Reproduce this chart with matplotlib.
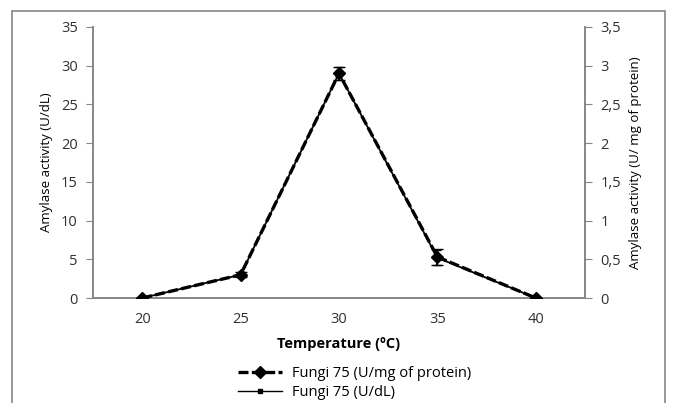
import matplotlib
matplotlib.use("Agg")
import matplotlib.pyplot as plt
from matplotlib.patches import Rectangle
from matplotlib.lines import Line2D

plt.rcParams['font.family'] = ['Open Sans', 'DejaVu Sans']

temperature = [20, 25, 30, 35, 40]
activity_udl = [0, 3.0, 29.0, 5.2, 0]
activity_udl_err = [0, 0.3, 0.8, 1.0, 0]
activity_prot = [0, 0.30, 2.90, 0.53, 0]
activity_prot_err = [0, 0.03, 0.08, 0.10, 0]

left_ticks = [0, 5, 10, 15, 20, 25, 30, 35]
right_ticks = [0, 0.5, 1, 1.5, 2, 2.5, 3, 3.5]
right_labels = ['0', '0,5', '1', '1,5', '2', '2,5', '3', '3,5']

W, H = 676, 403
fig = plt.figure(figsize=(W / 100, H / 100), dpi=100)
ax = fig.add_axes([93 / W, 1 - 298 / H, (585 - 93) / W, (298 - 27) / H])
ax2 = ax.twinx()

gray = '#868686'
txt = '#303030'

# U/dL series (left axis)
ax.errorbar(temperature, activity_udl, yerr=activity_udl_err, color='black', lw=1.3,
            marker='s', ms=3.5, capsize=3, elinewidth=1.2, zorder=3)
# protein series (right axis)
ax2.errorbar(temperature, activity_prot, yerr=activity_prot_err, color='black', lw=2.4,
             ls=(0, (3, 1.0)), marker='D', ms=6.5, capsize=4, elinewidth=1.2, zorder=4)

ax.set_xlim(17.5, 42.5)
ax.set_ylim(0, 35)
ax2.set_ylim(0, 3.5)
ax.set_xticks(temperature)
ax.set_yticks(left_ticks)
ax2.set_yticks(right_ticks)
ax2.set_yticklabels(right_labels)

for a in (ax, ax2):
    a.spines['top'].set_visible(False)
    for s in a.spines.values():
        s.set_color(gray)
        s.set_linewidth(1.2)
    a.tick_params(axis='y', direction='out', length=5, color=gray, labelsize=10.5,
                  labelcolor=txt, pad=6)
    a.tick_params(axis='x', length=0, labelsize=10.5, labelcolor=txt, pad=10)

ax.set_ylabel('Amylase activity (U/dL)', fontsize=9.5, color='black', labelpad=6)
ax2.set_ylabel('Amylase activity (U/ mg of protein)', fontsize=9.5, color='black', labelpad=6)
ax.set_xlabel('Temperature (ºC)', fontsize=10.5, fontweight='bold', color='black', labelpad=7)

handles = [
    Line2D([], [], color='black', lw=2.4, ls=(0, (3, 1.0)), marker='D', ms=6.5),
    Line2D([], [], color='black', lw=1.0, marker='s', ms=3),
]
labels = ['Fungi 75 (U/mg of protein)', 'Fungi 75 (U/dL)']
fig.legend(handles, labels, loc='center', bbox_to_anchor=(355 / W, 1 - 383 / H),
           frameon=False, fontsize=10.5, handlelength=3.0, labelspacing=0.25,
           borderpad=0, handletextpad=0.7)

fig.patches.append(Rectangle((12 / W, -0.05), (665 - 12) / W, 1.05 - 11 / H,
                             transform=fig.transFigure, fill=False,
                             edgecolor=gray, lw=1.2))

fig.savefig('out.png', dpi=100)
